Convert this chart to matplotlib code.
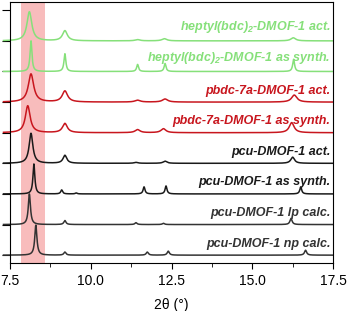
import numpy as np
import matplotlib.pyplot as plt

plt.rcParams['font.family'] = ['Liberation Sans', 'DejaVu Sans']
plt.rcParams['mathtext.fontset'] = 'custom'
plt.rcParams['mathtext.bf'] = 'Liberation Sans:bold:italic'

# trace labels, top to bottom
labels = [r"heptyl(bdc)$_\mathbf{2}$-DMOF-1 act.", r"heptyl(bdc)$_\mathbf{2}$-DMOF-1 as synth.",
          "pbdc-7a-DMOF-1 act.", "pbdc-7a-DMOF-1 as synth.",
          "pcu-DMOF-1 act.", "pcu-DMOF-1 as synth.",
          "pcu-DMOF-1 lp calc.", "pcu-DMOF-1 np calc."]
colors = ["#86e07a", "#86e07a", "#c8161e", "#c8161e",
          "#1a1a1a", "#1a1a1a", "#333333", "#333333"]
offsets = [7, 6, 5, 4, 3, 2, 1, 0]

# peak positions (2theta), heights (offset units), half widths
pos = [[8.10, 9.20, 11.45, 12.28, 16.27],
       [8.15, 9.20, 11.45, 12.30, 16.28],
       [8.15, 9.20, 11.45, 12.30, 16.30],
       [8.05, 9.20, 11.45, 12.25, 16.22],
       [8.15, 9.20, 11.40, 12.30, 16.25],
       [8.24, 9.10, 9.55, 11.65, 12.33, 16.50],
       [8.10, 9.20, 11.40, 12.25, 16.20],
       [8.30, 9.20, 11.75, 12.40, 16.65]]
hts = [[0.95, 0.33, 0.04, 0.07, 0.10],
       [1.00, 0.58, 0.23, 0.26, 0.40],
       [0.92, 0.36, 0.06, 0.10, 0.23],
       [0.88, 0.30, 0.10, 0.13, 0.33],
       [0.98, 0.26, 0.03, 0.07, 0.20],
       [0.98, 0.13, 0.03, 0.23, 0.26, 0.23],
       [1.00, 0.13, 0.06, 0.04, 0.20],
       [0.98, 0.10, 0.10, 0.13, 0.16]]
hw = [0.09, 0.035, 0.10, 0.09, 0.07, 0.035, 0.04, 0.04]

band = (7.84, 8.58)

fig = plt.figure(figsize=(3.48, 3.11), dpi=100)
ax = fig.add_axes([0.0287, 0.154, 0.9283, 0.8396])

ax.axvspan(band[0], band[1], color="#f8bcbc", lw=0, zorder=0)

x = np.linspace(7.3, 17.5, 3000)
for i in range(len(labels)):
    y = np.zeros_like(x)
    for p, h in zip(pos[i], hts[i]):
        y += h * hw[i]**2 / ((x - p)**2 + hw[i]**2)
    ax.plot(x, y + offsets[i], color=colors[i], lw=1.1, clip_on=False, zorder=2)
    ax.text(17.42, offsets[i] + 0.18, labels[i], ha="right", va="bottom",
            fontsize=9, fontweight="bold", fontstyle="italic", color=colors[i])

ax.set_xlim(7.5, 17.5)
ax.set_ylim(-0.26, 8.27)
ax.set_xticks([7.5, 10.0, 12.5, 15.0, 17.5])
ax.set_xticks(np.arange(8.75, 17.5, 2.5), minor=True)
ax.set_yticks(range(9))
ax.set_yticklabels([])
ax.tick_params(axis="x", which="major", length=4, labelsize=10, pad=4)
ax.tick_params(axis="x", which="minor", length=3)
ax.tick_params(axis="y", length=6)
ax.set_xlabel("2θ (°)", fontsize=10, labelpad=7)

fig.savefig("out.png", dpi=100)
